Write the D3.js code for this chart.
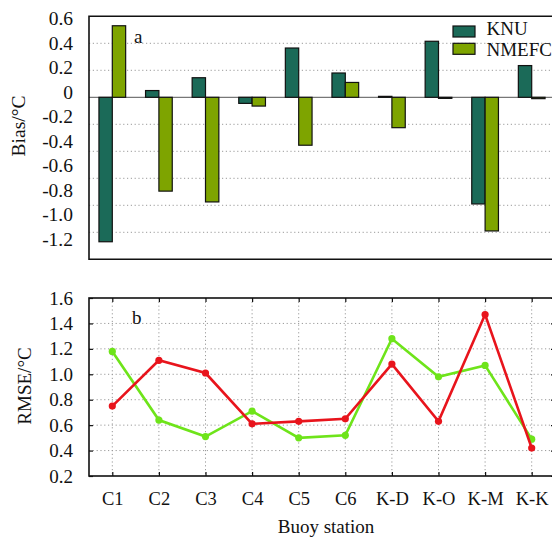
<!DOCTYPE html>
<html>
<head>
<meta charset="utf-8">
<script src="https://cdn.jsdelivr.net/npm/d3@7"></script>
<style>
  body { margin: 0; background: #fff; }
  svg { display: block; }
  svg text { font-family: "Liberation Serif", "Times New Roman", Tinos, "DejaVu Serif", serif; fill: #111; }
</style>
</head>
<body>
<svg id="chart" width="552" height="537"></svg>
<script>
'use strict';

// stations along x
var stations = ['C1', 'C2', 'C3', 'C4', 'C5', 'C6', 'K-D', 'K-O', 'K-M', 'K-K'];
var series = ['KNU', 'NMEFC'];

// panel a: bias (degC)
var biasKNU   = [-1.07, 0.05, 0.145, -0.045, 0.365, 0.18, 0.007, 0.415, -0.79, 0.235];
var biasNMEFC = [0.53, -0.695, -0.775, -0.065, -0.355, 0.11, -0.225, -0.008, -0.99, -0.01];
var biasTicks = [0.6, 0.4, 0.2, 0, -0.2, -0.4, -0.6, -0.8, -1.0, -1.2];

// panel b: RMSE (degC)
var rmseRed   = [0.75, 1.11, 1.01, 0.61, 0.63, 0.65, 1.08, 0.63, 1.47, 0.42];
var rmseGreen = [1.18, 0.64, 0.51, 0.71, 0.50, 0.52, 1.28, 0.98, 1.07, 0.49];
var rmseTicks = [0.2, 0.4, 0.6, 0.8, 1.0, 1.2, 1.4, 1.6];

var colors = { KNU: '#1b6a58', NMEFC: '#7ea400' };
var redCol = '#e8141c', greenCol = '#6ee41a';

var svg = d3.select('#chart');
var left = 89, right = 555;

function fmt(d) { return d === 0 ? '0' : d.toFixed(1); }

// ---------- panel a ----------
var topA = 16.3, botA = 259.3;
var x = d3.scaleBand().domain(stations).range([left, right])
  .paddingInner(0.427).paddingOuter(0.2135);
var xSub = d3.scaleBand().domain(series).range([0, x.bandwidth()]);
var yA = d3.scaleLinear().domain([-1.2, 0.6]).range([botA, topA]);
// tick labels sit a bit compressed against the grid in the original
var yALab = d3.scaleLinear().domain([-1.2, 0.6]).range([239.3, 18.3]);

var gA = svg.append('g');

gA.selectAll('line.grid').data(biasTicks.filter(function(d){ return d > -1.2 && d < 0.6 && d !== 0; }))
  .enter().append('line')
  .attr('class', 'grid')
  .attr('x1', left).attr('x2', right)
  .attr('y1', function(d){ return yA(d); }).attr('y2', function(d){ return yA(d); })
  .attr('stroke', '#9a9a9a').attr('stroke-width', 1).attr('stroke-dasharray', '1.2,2.6');

gA.append('line')
  .attr('x1', left).attr('x2', right)
  .attr('y1', yA(0)).attr('y2', yA(0))
  .attr('stroke', '#555').attr('stroke-width', 1);

var rows = stations.map(function(s, i){ return { st: s, KNU: biasKNU[i], NMEFC: biasNMEFC[i] }; });

gA.selectAll('g.grp').data(rows).enter().append('g')
  .attr('transform', function(d){ return 'translate(' + x(d.st) + ',0)'; })
  .selectAll('rect').data(function(d){ return series.map(function(k){ return { k: k, v: d[k] }; }); })
  .enter().append('rect')
  .attr('x', function(d){ return xSub(d.k); })
  .attr('width', xSub.bandwidth())
  .attr('y', function(d){ return Math.min(yA(d.v), yA(0)); })
  .attr('height', function(d){ return Math.abs(yA(d.v) - yA(0)); })
  .attr('fill', function(d){ return colors[d.k]; })
  .attr('stroke', '#111').attr('stroke-width', 1.2);

// frame
gA.append('path')
  .attr('d', 'M' + right + ',' + topA + 'H' + left + 'V' + botA + 'H' + right)
  .attr('fill', 'none').attr('stroke', '#111').attr('stroke-width', 1.6);

var axA = gA.append('g').attr('transform', 'translate(73,0)')
  .call(d3.axisLeft(yALab).tickValues(biasTicks).tickSize(0).tickPadding(0).tickFormat(fmt));
axA.select('.domain').remove();
axA.attr('font-family', null);
axA.selectAll('text').attr('font-size', 19.5);

gA.append('text').attr('x', 134).attr('y', 43).attr('font-size', 19).text('a');

gA.append('text')
  .attr('transform', 'translate(25,126) rotate(-90)')
  .attr('text-anchor', 'middle').attr('font-size', 19.5).text('Bias/°C');

// legend
var leg = gA.selectAll('g.leg').data(series).enter().append('g');
leg.append('rect')
  .attr('x', 453).attr('y', function(d, i){ return 26 + i * 17.3; })
  .attr('width', 22).attr('height', 11)
  .attr('fill', function(d){ return colors[d]; })
  .attr('stroke', '#111').attr('stroke-width', 1.2);
leg.append('text')
  .attr('x', 486.5).attr('y', function(d, i){ return 35 + i * 20.5; })
  .attr('font-size', 19)
  .text(function(d){ return d; });

// ---------- panel b ----------
var topB = 298, botB = 476;
var xP = d3.scalePoint().domain(stations).range([left, right]).padding(0.5);
var yB = d3.scaleLinear().domain([0.2, 1.6]).range([botB, topB]);

var gB = svg.append('g');

gB.selectAll('line.hg').data(rmseTicks.filter(function(d){ return d > 0.2 && d < 1.6; }))
  .enter().append('line')
  .attr('x1', left).attr('x2', right)
  .attr('y1', function(d){ return yB(d); }).attr('y2', function(d){ return yB(d); })
  .attr('stroke', '#9a9a9a').attr('stroke-width', 1).attr('stroke-dasharray', '1.2,2.6');

gB.selectAll('line.vg').data(stations).enter().append('line')
  .attr('x1', function(d){ return xP(d); }).attr('x2', function(d){ return xP(d); })
  .attr('y1', topB).attr('y2', botB)
  .attr('stroke', '#9a9a9a').attr('stroke-width', 1).attr('stroke-dasharray', '1.2,2.6');

// inward ticks
gB.append('g').attr('transform', 'translate(0,' + botB + ')')
  .call(d3.axisTop(xP).tickSize(4).tickFormat(''))
  .call(function(g){ g.select('.domain').remove(); });
gB.append('g').attr('transform', 'translate(0,' + topB + ')')
  .call(d3.axisBottom(xP).tickSize(4).tickFormat(''))
  .call(function(g){ g.select('.domain').remove(); });
gB.append('g').attr('transform', 'translate(' + left + ',0)')
  .call(d3.axisRight(yB).tickValues(rmseTicks).tickSize(4).tickFormat(''))
  .call(function(g){ g.select('.domain').remove(); });
gB.append('g').attr('transform', 'translate(' + right + ',0)')
  .call(d3.axisLeft(yB).tickValues(rmseTicks).tickSize(4).tickFormat(''))
  .call(function(g){ g.select('.domain').remove(); });
gB.selectAll('.tick line').attr('stroke', '#111').attr('stroke-width', 1.2);

gB.append('rect').attr('x', left).attr('y', topB)
  .attr('width', right - left).attr('height', botB - topB)
  .attr('fill', 'none').attr('stroke', '#111').attr('stroke-width', 1.6);

var line = d3.line().x(function(d, i){ return xP(stations[i]); }).y(function(d){ return yB(d); });

[[rmseGreen, greenCol], [rmseRed, redCol]].forEach(function(s){
  gB.append('path').datum(s[0]).attr('d', line)
    .attr('fill', 'none').attr('stroke', s[1]).attr('stroke-width', 2.6);
  gB.selectAll(null).data(s[0]).enter().append('circle')
    .attr('cx', function(d, i){ return xP(stations[i]); })
    .attr('cy', function(d){ return yB(d); })
    .attr('r', 3.6).attr('fill', s[1]);
});

var axB = gB.append('g').attr('transform', 'translate(73,0)')
  .call(d3.axisLeft(yB).tickValues(rmseTicks).tickSize(0).tickPadding(0).tickFormat(fmt));
axB.select('.domain').remove();
axB.attr('font-family', null);
axB.selectAll('text').attr('font-size', 19);

var axX = gB.append('g').attr('transform', 'translate(0,' + botB + ')')
  .call(d3.axisBottom(xP).tickSize(0).tickPadding(16));
axX.select('.domain').remove();
axX.attr('font-family', null);
axX.selectAll('text').attr('font-size', 18.5);

gB.append('text').attr('x', 132).attr('y', 324).attr('font-size', 19).text('b');

gB.append('text')
  .attr('transform', 'translate(31,386) rotate(-90)')
  .attr('text-anchor', 'middle').attr('font-size', 19).text('RMSE/°C');

gB.append('text').attr('x', 326).attr('y', 533)
  .attr('text-anchor', 'middle').attr('font-size', 19).text('Buoy station');
</script>
</body>
</html>
